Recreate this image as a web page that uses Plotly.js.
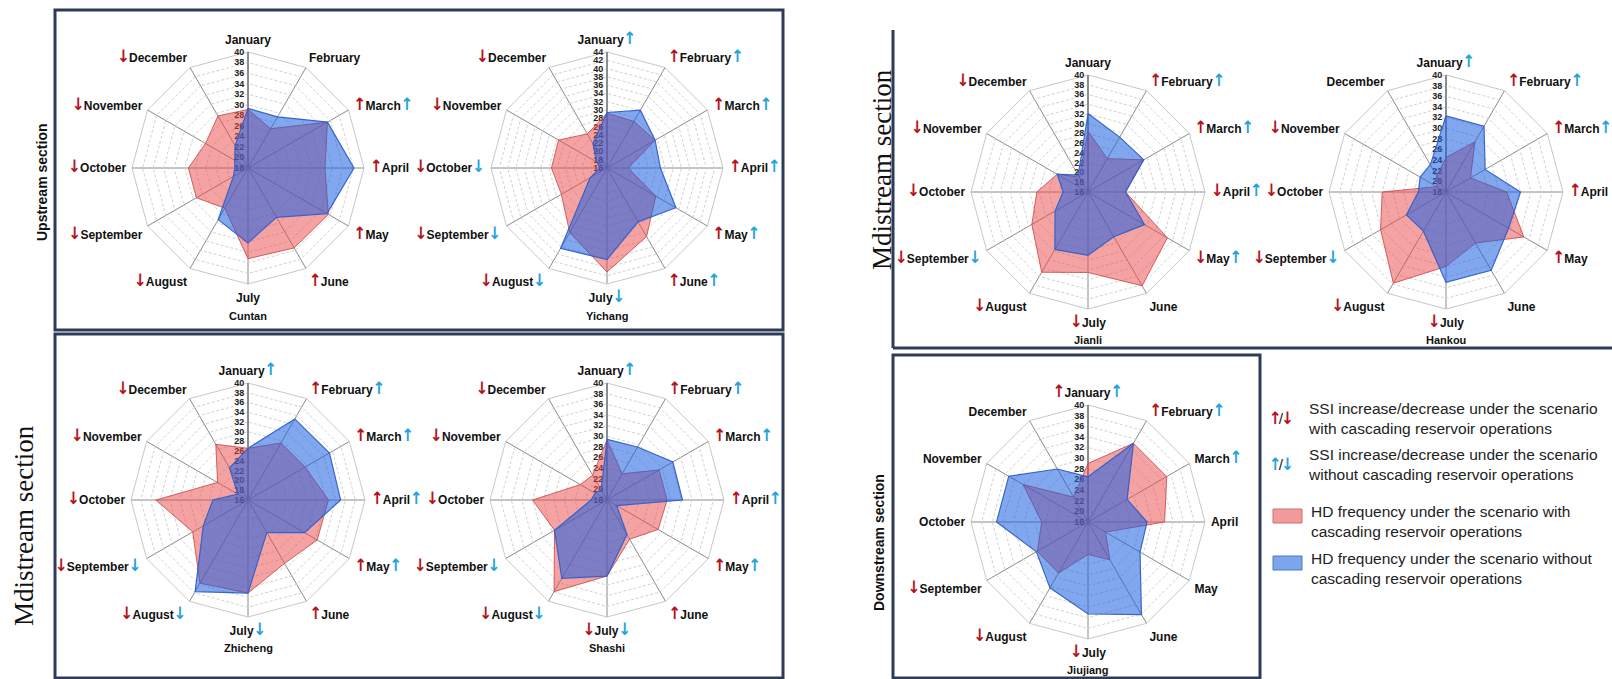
<!DOCTYPE html>
<html><head><meta charset="utf-8">
<script src="https://cdn.plot.ly/plotly-3.0.1.min.js"></script>
<style>html,body{margin:0;padding:0;background:#fff}#chart{width:1612px;height:679px}</style>
</head><body><div id="chart"></div>
<script>
const months = ['January','February','March','April','May','June','July','August','September','October','November','December'];

// HD frequency: "with" = with cascading reservoir operations (red), "without" = without (blue)
const cuntanWith      = [29.1, 26.6, 35.4, 32.6, 35.6, 35.5, 35.2, 26.8, 29.3, 29.3, 27.3, 29.4];
const cuntanWithout   = [29.3, 29.2, 35.4, 38.1, 35.3, 28.8, 32.2, 29.3, 21.2, 20.5, 20.9, 22.9];
const yichangWith     = [29.2, 29.0, 29.4, 21.1, 29.6, 35.1, 41.1, 34.0, 28.7, 29.4, 29.5, 25.5];
const yichangWithout  = [29.4, 32.1, 29.4, 28.9, 35.2, 31.0, 38.1, 38.4, 20.7, 17.7, 18.9, 22.8];
const zhichengWith    = [26.6, 29.5, 29.5, 32.5, 32.4, 31.0, 35.1, 35.7, 29.1, 34.9, 23.2, 29.2];
const zhichengWithout = [26.6, 35.2, 35.3, 35.0, 29.4, 23.7, 35.1, 37.7, 26.6, 23.2, 18.4, 23.6];
const shashiWith      = [29.3, 23.7, 29.3, 29.3, 29.1, 26.5, 32.3, 37.9, 29.4, 32.0, 23.8, 23.4];
const shashiWithout   = [29.4, 29.5, 32.3, 32.2, 20.1, 25.5, 32.3, 35.0, 29.4, 21.0, 20.6, 20.2];
const jianliWith      = [28.5, 23.9, 29.2, 23.7, 34.8, 38.2, 32.5, 35.0, 29.3, 26.5, 23.3, 19.5];
const jianliWithout   = [32.1, 29.0, 29.2, 23.7, 29.4, 26.6, 29.0, 29.6, 23.8, 21.1, 23.3, 20.0];
const hankouWith      = [24.5, 28.9, 23.3, 29.4, 34.9, 29.1, 32.0, 37.8, 32.2, 30.0, 20.0, 21.5];
const hankouWithout   = [32.3, 32.3, 26.5, 32.0, 31.6, 35.0, 35.0, 26.5, 26.6, 23.2, 23.6, 23.9];
const jiujiangWith    = [29.0, 35.1, 35.1, 32.4, 21.8, 26.2, 24.1, 29.1, 29.0, 26.7, 32.1, 23.4];
const jiujiangWithout = [26.5, 35.1, 26.5, 29.1, 29.3, 38.1, 35.3, 32.3, 29.2, 35.2, 35.2, 29.5];

// SSI change arrows per month: u = increase, d = decrease, '' = none
const cuntanRedArr    = ['', '', 'u','u','u','u','', 'd','d','d','d','d'];
const cuntanBlueArr   = ['', '', 'u','', '', '', '', '', '', '', '', ''];
const yichangRedArr   = ['', 'u','u','u','u','u','', 'd','d','d','d','d'];
const yichangBlueArr  = ['u','u','u','u','u','u','d','d','d','d','', ''];
const zhichengRedArr  = ['', 'u','u','u','u','u','', 'd','d','d','d','d'];
const zhichengBlueArr = ['u','u','u','u','u','', 'd','d','d','', '', ''];
const shashiRedArr    = ['', 'u','u','u','u','u','d','d','d','d','d','d'];
const shashiBlueArr   = ['u','u','u','u','u','', 'd','d','d','', '', ''];
const jianliRedArr    = ['', 'u','u','d','d','', 'd','d','d','d','d','d'];
const jianliBlueArr   = ['', 'u','u','u','u','', '', '', 'd','', '', ''];
const hankouRedArr    = ['', 'u','u','u','u','', 'd','d','d','d','d',''];
const hankouBlueArr   = ['u','u','u','', '', '', '', '', 'd','', '', ''];
const jiujiangRedArr  = ['u','u','', '', '', '', 'd','d','d','', '', ''];
const jiujiangBlueArr = ['u','u','u','', '', '', '', '', '', '', '', ''];

const stationNames = ['Cuntan','Yichang','Zhicheng','Shashi','Jianli','Hankou','Jiujiang'];
const radialRanges = [[18,40],[16,44],[16,40],[18,40],[16,40],[18,40],[18,40]];

const W = 1612, H = 679;
const RED = '#b3141c', BLUE = '#27a3dc';
const SANS = 'Liberation Sans, Arial, sans-serif';
const SERIF = 'Liberation Serif, Times New Roman, serif';

// layout geometry (pixel centres and radii of each radar)
const geom = [
  {cx:248, cy:168, R:116}, {cx:607, cy:168, R:116},
  {cx:248, cy:500, R:117}, {cx:607, cy:500, R:117},
  {cx:1088, cy:192, R:117}, {cx:1446, cy:192, R:117},
  {cx:1088, cy:522, R:117}
];

const withSeries = [cuntanWith, yichangWith, zhichengWith, shashiWith, jianliWith, hankouWith, jiujiangWith];
const withoutSeries = [cuntanWithout, yichangWithout, zhichengWithout, shashiWithout, jianliWithout, hankouWithout, jiujiangWithout];
const redArrs = [cuntanRedArr, yichangRedArr, zhichengRedArr, shashiRedArr, jianliRedArr, hankouRedArr, jiujiangRedArr];
const blueArrs = [cuntanBlueArr, yichangBlueArr, zhichengBlueArr, shashiBlueArr, jianliBlueArr, hankouBlueArr, jiujiangBlueArr];

const ARROW_STYLE = 'font-family:DejaVu Sans Condensed,DejaVu Sans;font-weight:bold;font-size:17px';
function arrow(c, d, trail) {
  return '<span style="color:' + c + ';' + ARROW_STYLE + (trail ? ';letter-spacing:-1px' : '') + '">' + (d === 'u' ? '↑' : '↓') + '</span>';
}
function monthLabels(red, blue) {
  return months.map((m, i) => (red[i] ? arrow(RED, red[i], true) : '') + m + (blue[i] ? arrow(BLUE, blue[i], false) : ''));
}
const closeLoop = a => a.concat([a[0]]);

const data = [];
const layout = {
  width: W, height: H,
  margin: {l:0, r:0, t:0, b:0},
  paper_bgcolor: '#fff',
  showlegend: false,
  font: {family: SANS},
  shapes: [], annotations: []
};

stationNames.forEach((name, k) => {
  const pid = k === 0 ? 'polar' : 'polar' + (k + 1);
  const g = geom[k];
  data.push({
    type: 'scatterpolar', subplot: pid, mode: 'lines', fill: 'toself',
    theta: closeLoop(months), r: closeLoop(withSeries[k]),
    fillcolor: 'rgba(236,70,70,0.5)', line: {color: 'rgba(205,80,80,0.9)', width: 1},
    hoverinfo: 'skip'
  });
  data.push({
    type: 'scatterpolar', subplot: pid, mode: 'lines', fill: 'toself',
    theta: closeLoop(months), r: closeLoop(withoutSeries[k]),
    fillcolor: 'rgba(25,95,225,0.55)', line: {color: 'rgba(50,95,200,0.95)', width: 1.2},
    hoverinfo: 'skip'
  });
  const rr = radialRanges[k];
  layout[pid] = {
    domain: {x: [(g.cx - g.R) / W, (g.cx + g.R) / W], y: [1 - (g.cy + g.R) / H, 1 - (g.cy - g.R) / H]},
    bgcolor: 'rgba(0,0,0,0)',
    gridshape: 'linear',
    radialaxis: {
      range: rr, tick0: rr[0], dtick: 2, angle: 90, tickangle: 90, side: 'counterclockwise',
      showline: true, linecolor: '#555', linewidth: 1,
      gridcolor: '#d2d2d2', griddash: '3px,2px', gridwidth: 1,
      ticks: '', tickfont: {family: SANS, size: 9, color: '#222', weight: 'bold'},
      layer: 'below traces'
    },
    angularaxis: {
      type: 'category', categoryarray: months, direction: 'clockwise', rotation: 90,
      tickmode: 'array', tickvals: months, ticktext: monthLabels(redArrs[k], blueArrs[k]),
      showline: true, linecolor: '#c8c8c8', linewidth: 1,
      gridcolor: '#8a8a8a', gridwidth: 1,
      ticks: 'outside', ticklen: 3, tickcolor: 'rgba(0,0,0,0)',
      tickfont: {family: SANS, size: 12, color: '#111', weight: 'bold'},
      layer: 'below traces'
    }
  };
  layout.annotations.push({
    xref: 'paper', yref: 'paper', x: g.cx / W, y: 1 - (g.cy + 148) / H,
    text: '<b>' + name + '</b>', showarrow: false, xanchor: 'center', yanchor: 'middle',
    font: {family: SANS, size: 11, color: '#111'}
  });
});

// panel frames
const px = (x) => x / W, py = (y) => 1 - y / H;
const frameLine = {color: '#2d3b57', width: 3};
layout.shapes.push(
  {type:'rect', xref:'paper', yref:'paper', x0:px(55), x1:px(783), y0:py(10), y1:py(330), line:frameLine},
  {type:'rect', xref:'paper', yref:'paper', x0:px(55), x1:px(783), y0:py(334), y1:py(678), line:frameLine},
  {type:'line', xref:'paper', yref:'paper', x0:px(893), x1:px(893), y0:py(30), y1:py(348), line:frameLine},
  {type:'line', xref:'paper', yref:'paper', x0:px(893), x1:px(1612), y0:py(348), y1:py(348), line:frameLine},
  {type:'rect', xref:'paper', yref:'paper', x0:px(893), x1:px(1260), y0:py(355), y1:py(678), line:frameLine}
);

// section titles
const ann = (o) => Object.assign({xref:'paper', yref:'paper', showarrow:false, xanchor:'center', yanchor:'middle'}, o);
layout.annotations.push(
  ann({x:px(42), y:py(183), text:'<b>Upstream section</b>', textangle:-90, font:{family:SANS, size:14, color:'#111'}}),
  ann({x:px(24), y:py(526), text:'Mdistream section', textangle:-90, font:{family:SERIF, size:27, color:'#111'}}),
  ann({x:px(882), y:py(170), text:'Mdistream section', textangle:-90, font:{family:SERIF, size:27, color:'#111'}}),
  ann({x:px(879), y:py(543), text:'<b>Downstream section</b>', textangle:-90, font:{family:SANS, size:14, color:'#111'}})
);

// legend
const legFont = {family: SANS, size: 15.5, color: '#222'};
const arrPair = (c) => '<span style="color:' + c + ';' + ARROW_STYLE + ';letter-spacing:-3px">↑</span><span style="color:#222;letter-spacing:-2px">/</span><span style="color:' + c + ';' + ARROW_STYLE + '">↓</span>';
layout.annotations.push(
  ann({x:px(1281), y:py(418), text:arrPair(RED), font:legFont}),
  ann({x:px(1306), y:py(418), xanchor:'left', align:'left', font:legFont,
   text:'SSI increase/decrease under the scenario<br>with cascading reservoir operations'}),
  ann({x:px(1281), y:py(464), text:arrPair(BLUE), font:legFont}),
  ann({x:px(1306), y:py(464), xanchor:'left', align:'left', font:legFont,
   text:'SSI increase/decrease under the scenario<br>without cascading reservoir operations'}),
  ann({x:px(1309), y:py(521), xanchor:'left', align:'left', font:legFont,
   text:'HD frequency under the scenario with<br>cascading reservoir operations'}),
  ann({x:px(1309), y:py(568), xanchor:'left', align:'left', font:legFont,
   text:'HD frequency under the scenario without<br>cascading reservoir operations'})
);
layout.shapes.push(
  {type:'rect', xref:'paper', yref:'paper', x0:px(1273), x1:px(1302), y0:py(509), y1:py(523),
   fillcolor:'#f09a9a', line:{color:'#d07070', width:1}},
  {type:'rect', xref:'paper', yref:'paper', x0:px(1273), x1:px(1302), y0:py(556), y1:py(570),
   fillcolor:'#7aa6ec', line:{color:'#4d78c4', width:1}}
);

Plotly.newPlot('chart', data, layout, {staticPlot: true, displayModeBar: false});
</script>
</body></html>
